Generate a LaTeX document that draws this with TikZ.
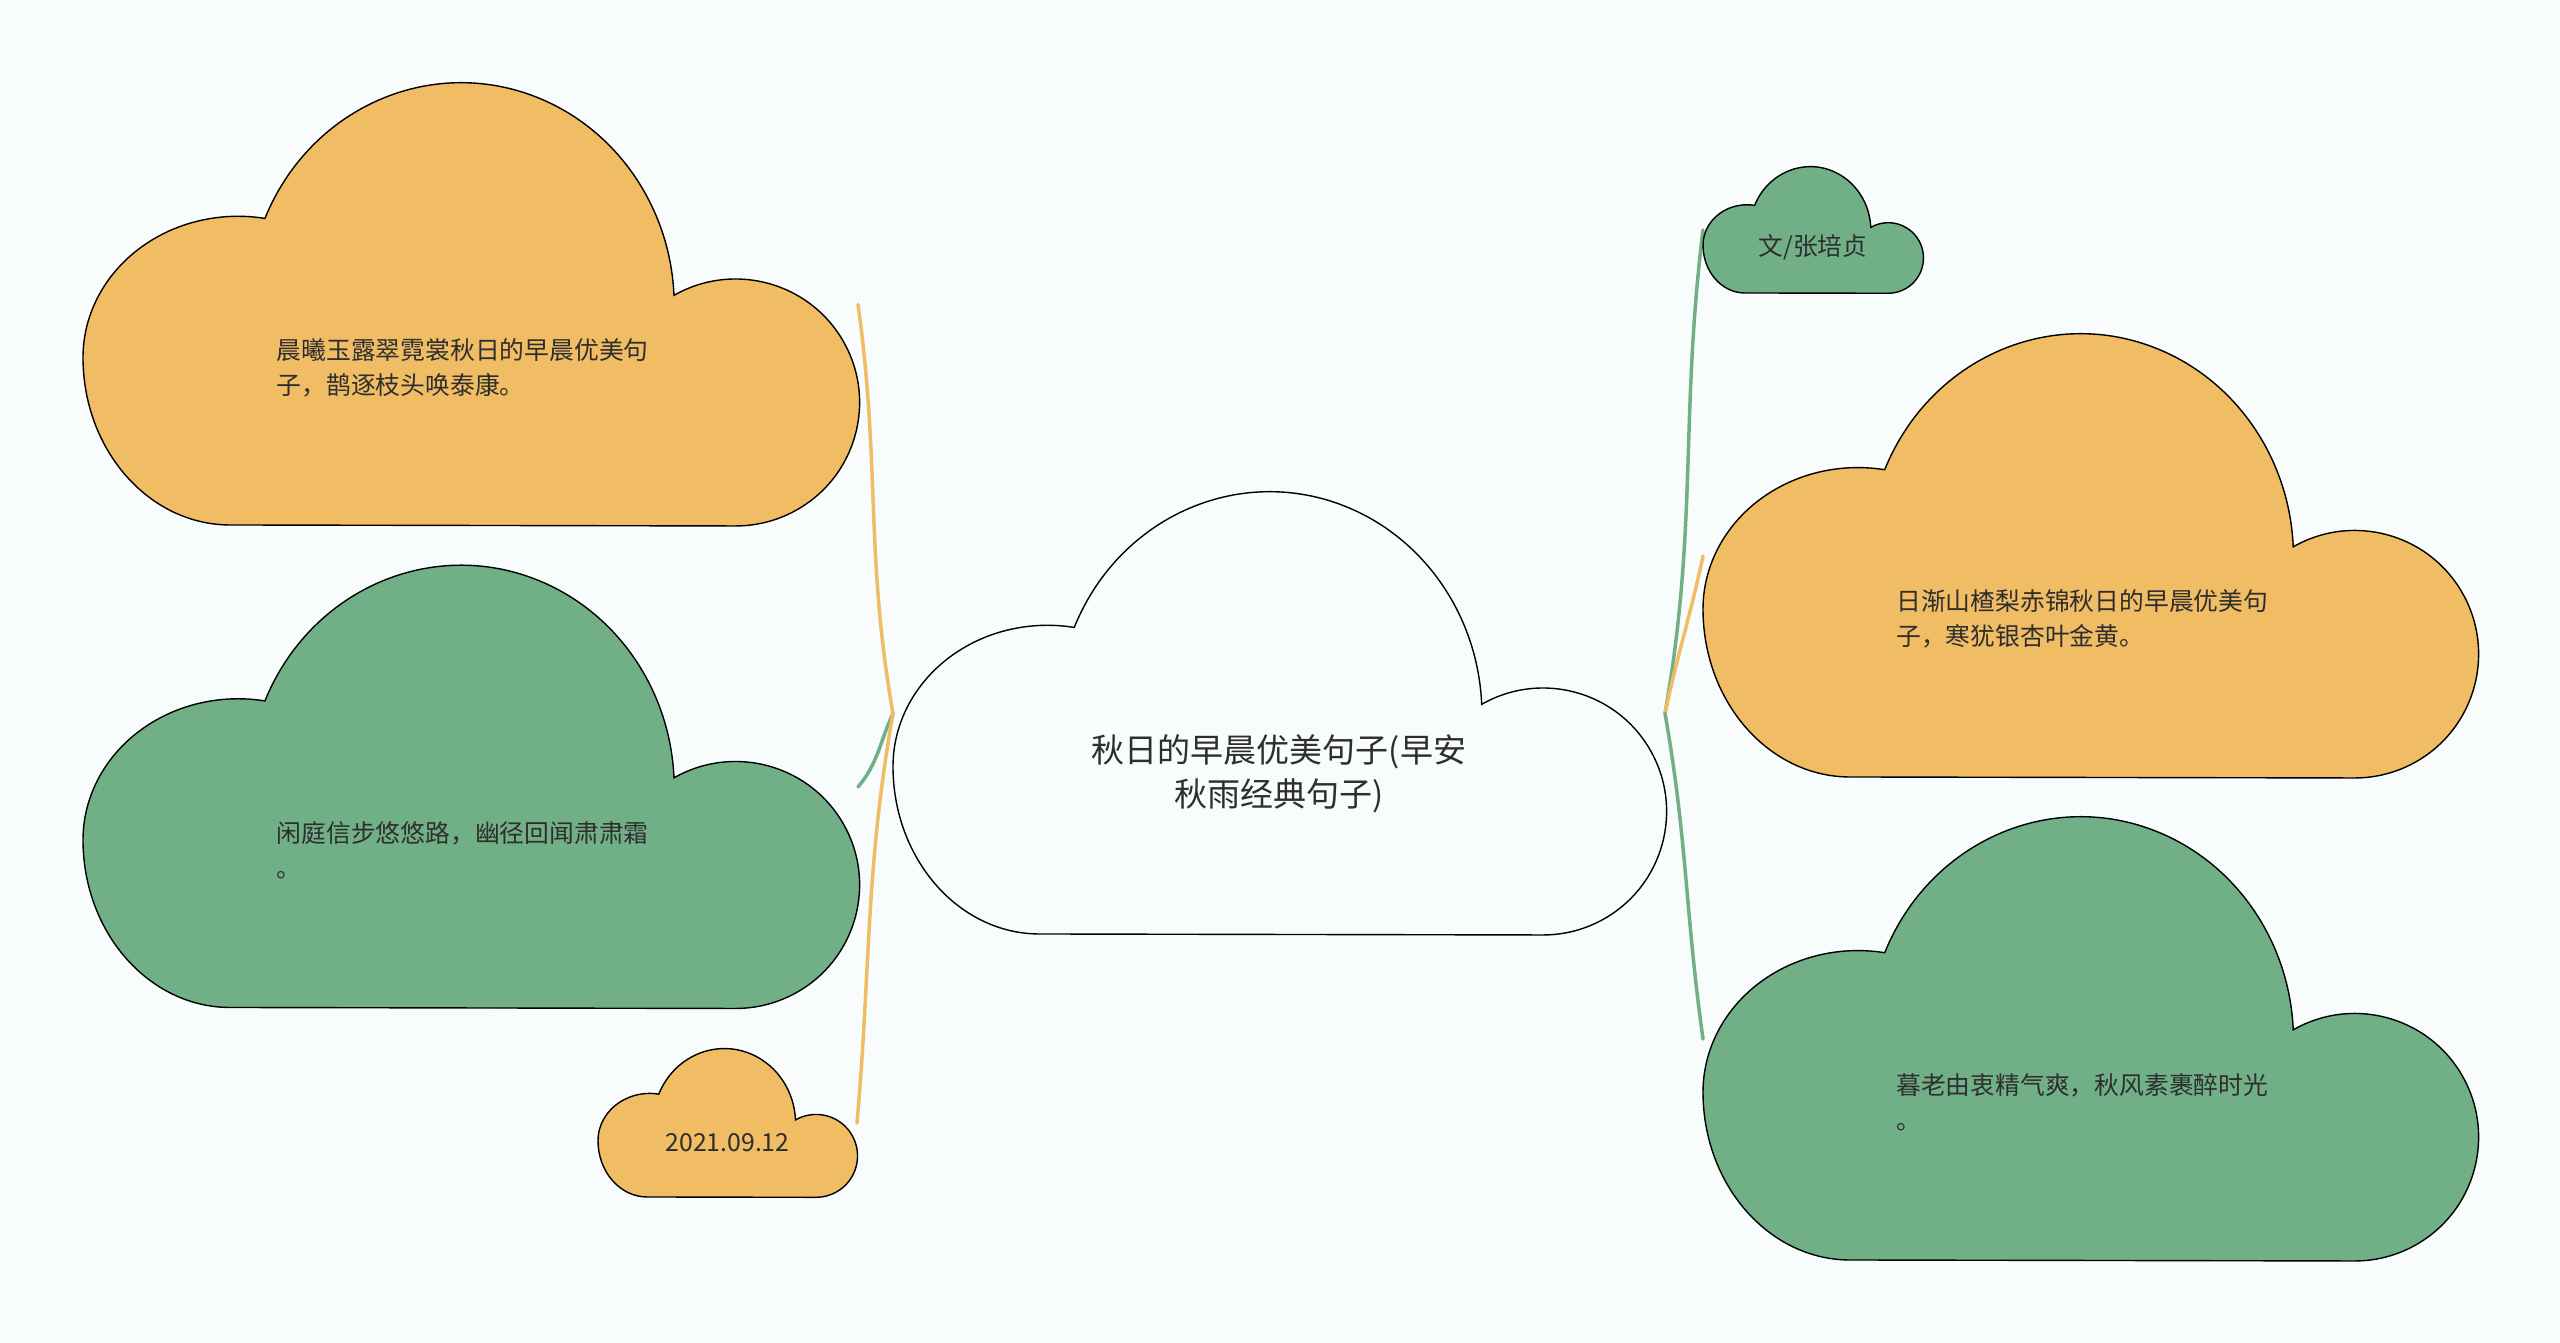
\documentclass[tikz,border=0pt]{standalone}
\usepackage{fontspec}
\setmainfont{Noto Sans CJK SC}
\usetikzlibrary{calc}
\definecolor{bgcol}{HTML}{F8FCFC}
\definecolor{leaforange}{HTML}{F0BC64}
\definecolor{leafgreen}{HTML}{71B087}
\definecolor{inkcol}{HTML}{2E2E2E}
\tikzset{
  cloudbox/.style 2 args={minimum width=#1, minimum height=#2, inner sep=0pt, outer sep=0pt},
  cloudline/.style={draw=black, line width=1.4pt},
  cloudtext/.style={text=inkcol, inner sep=0pt, font=\fontsize{24.8pt}{35pt}\selectfont},
  leaftext/.style={cloudtext, align=left, anchor=west},
  branch/.style={line width=3.5pt, line cap=round},
}
\newcommand\cloudpath[2]{%
  \draw[cloudline, fill=#2] let \p1=(#1.south west), \p2=(#1.north east),
      \n1={\x2-\x1}, \n2={\y2-\y1} in
    ({\x1+0.19*\n1},\y1)
    arc[start angle=270, end angle=180, x radius=0.19*\n1, y radius=0.38*\n2]
    arc[start angle=180, end angle=80, x radius=0.2*\n1, y radius=0.32*\n2]
    arc[start angle=157, end angle=2.6, x radius=0.275*\n1, y radius=0.505*\n2]
    arc[start angle=119.8, end angle=-90, x radius=0.16*\n1, y radius=0.28*\n2]
    -- cycle;}
\begin{document}
\begin{tikzpicture}[x=1pt, y=1pt]
  \fill[bgcol] (0,0) rectangle (2560,1343);
  \useasboundingbox (0,0) rectangle (2560,1343);
  % cloud frames
  \node[cloudbox={772pt}{441pt}] (root) at (1279,629.5) {};
  \node[cloudbox={775pt}{441pt}] (tl) at (470.5,1038.5) {};
  \node[cloudbox={775pt}{441pt}] (ml) at (470.5,556) {};
  \node[cloudbox={259pt}{148pt}] (dt) at (727.5,220) {};
  \node[cloudbox={220pt}{126pt}] (au) at (1813,1113) {};
  \node[cloudbox={774pt}{442pt}] (tr) at (2090,787) {};
  \node[cloudbox={774pt}{442pt}] (br) at (2090,304) {};
  % branches
  \draw[branch, leaforange] (root.west) to[out=100, in=-82] (tl.east);
  \draw[branch, leafgreen] (root.west) to[out=-115, in=50] (ml.east);
  \draw[branch, leaforange] (root.west) to[out=-100, in=85] (dt.east);
  \draw[branch, leafgreen] (root.east) to[out=80, in=-97] (au.west);
  \draw[branch, leaforange] (root.east) to[out=78, in=-102] (tr.west);
  \draw[branch, leafgreen] (root.east) to[out=-80, in=98] (br.west);
  \foreach \nd/\fc in {root/bgcol, tl/leaforange, ml/leafgreen, dt/leaforange,
      au/leafgreen, tr/leaforange, br/leafgreen}
    \cloudpath{\nd}{\fc};
  % texts
  \node[cloudtext, align=center, font=\fontsize{33pt}{44pt}\selectfont] (root-text)
    at ([yshift=-60pt]root.center) {秋日的早晨优美句子(早安\\秋雨经典句子)};
  \node[leaftext] (tl-text) at ([xshift=-194pt, yshift=-63pt]tl.center)
    {晨曦玉露翠霓裳秋日的早晨优美句\\子，鹊逐枝头唤泰康。};
  \node[leaftext] (ml-text) at ([xshift=-194pt, yshift=-63pt]ml.center)
    {闲庭信步悠悠路，幽径回闻肃肃霜\\。};
  \node[cloudtext] (dt-text) at ([yshift=-20pt]dt.center) {2021.09.12};
  \node[cloudtext] (au-text) at ([yshift=-17.5pt]au.center) {文/张培贞};
  \node[leaftext] (tr-text) at ([xshift=-194pt, yshift=-63pt]tr.center)
    {日渐山楂梨赤锦秋日的早晨优美句\\子，寒犹银杏叶金黄。};
  \node[leaftext] (br-text) at ([xshift=-194pt, yshift=-63pt]br.center)
    {暮老由衷精气爽，秋风素裹醉时光\\。};
\end{tikzpicture}
\end{document}
